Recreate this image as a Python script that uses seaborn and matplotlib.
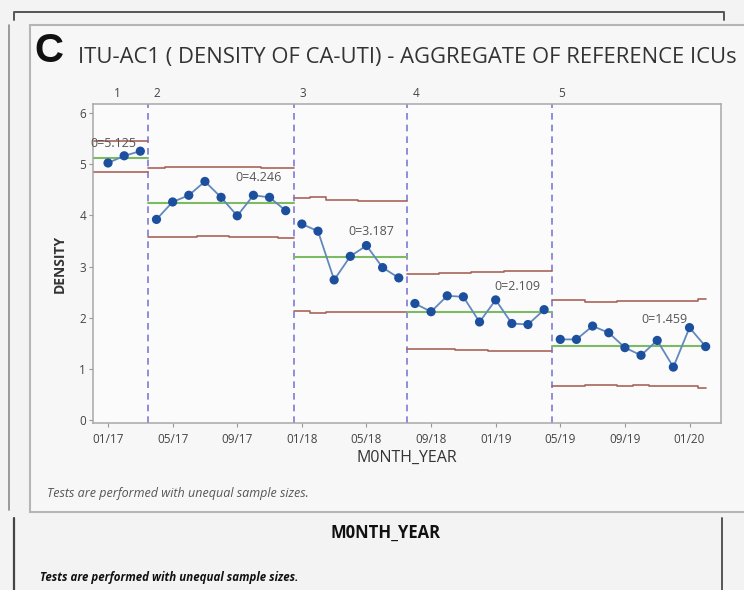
import matplotlib
matplotlib.use("Agg")
import matplotlib.pyplot as plt
from matplotlib.lines import Line2D
from matplotlib.patches import Rectangle
import numpy as np
import pandas as pd
import seaborn as sns

# ---- data ----
months = ["01/17", "02/17", "03/17", "04/17", "05/17", "06/17", "07/17", "08/17", "09/17",
          "10/17", "11/17", "12/17", "01/18", "02/18", "03/18", "04/18", "05/18", "06/18",
          "07/18", "08/18", "09/18", "10/18", "11/18", "12/18", "01/19", "02/19", "03/19",
          "04/19", "05/19", "06/19", "07/19", "08/19", "09/19", "10/19", "11/19", "12/19",
          "01/20", "02/20"]
phase = [1] * 3 + [2] * 9 + [3] * 7 + [4] * 9 + [5] * 10
density = [5.02, 5.16, 5.25,
           3.92, 4.26, 4.39, 4.66, 4.35, 3.99, 4.39, 4.35, 4.09,
           3.83, 3.69, 2.74, 3.20, 3.41, 2.98, 2.78,
           2.28, 2.12, 2.43, 2.41, 1.92, 2.35, 1.89, 1.87, 2.16,
           1.58, 1.58, 1.84, 1.71, 1.42, 1.27, 1.56, 1.04, 1.81, 1.44]
center = {1: 5.125, 2: 4.246, 3: 3.187, 4: 2.109, 5: 1.459}
ucl = [5.44, 5.44, 5.44,
       4.93, 4.94, 4.94, 4.95, 4.95, 4.94, 4.94, 4.93, 4.93,
       4.33, 4.36, 4.29, 4.29, 4.28, 4.28, 4.28,
       2.86, 2.86, 2.87, 2.88, 2.89, 2.90, 2.92, 2.92, 2.92,
       2.35, 2.35, 2.30, 2.30, 2.33, 2.33, 2.33, 2.33, 2.33, 2.36]
lcl = [4.84, 4.84, 4.84,
       3.57, 3.58, 3.58, 3.59, 3.59, 3.58, 3.57, 3.57, 3.56,
       2.14, 2.09, 2.12, 2.12, 2.12, 2.11, 2.11,
       1.40, 1.40, 1.39, 1.38, 1.37, 1.36, 1.35, 1.35, 1.36,
       0.67, 0.67, 0.70, 0.70, 0.68, 0.70, 0.67, 0.67, 0.67, 0.64]
tick_labels = ["01/17", "05/17", "09/17", "01/18", "05/18", "09/18", "01/19", "05/19", "09/19", "01/20"]

df = pd.DataFrame({"idx": np.arange(len(months)), "month": months, "phase": phase,
                   "density": density, "ucl": ucl, "lcl": lcl})
df["cl"] = df["phase"].map(center)

W, H = 744, 590
sns.set_theme(style="white")
plt.rcParams["font.family"] = ["Open Sans", "DejaVu Sans"]

fig = plt.figure(figsize=(W / 100, H / 100), dpi=100, facecolor="#f3f3f3")


def fx(x):
    return x / W


def fy(y):
    return 1 - y / H


def frame_line(xs, ys, color, lw):
    fig.add_artist(Line2D([fx(v) for v in xs], [fy(v) for v in ys], transform=fig.transFigure,
                          color=color, lw=lw, zorder=-5))


# outer screenshot frames
fig.add_artist(Rectangle((fx(30), fy(512)), fx(720), (512 - 25) / H, transform=fig.transFigure,
                         facecolor="#f7f7f7", edgecolor="#b5b5b5", lw=1.5, zorder=-10))
frame_line([14, 14, 724, 724], [20, 12, 12, 20], "#555555", 1.4)
frame_line([9, 9], [25, 510], "#8a8a8a", 1.2)
frame_line([14, 14], [518, 590], "#444444", 1.6)
frame_line([722, 722], [518, 590], "#555555", 1.4)

# panel headings
fig.text(fx(34), fy(51), "C", fontsize=29, fontweight="bold", color="#111111",
         family=["Liberation Sans", "DejaVu Sans"], va="center", ha="left")
fig.text(fx(78), fy(57), "ITU-AC1 ( DENSITY OF CA-UTI) - AGGREGATE OF REFERENCE ICUs",
         fontsize=15.8, color="#333333", va="center", ha="left")
fig.text(fx(47), fy(493), "Tests are performed with unequal sample sizes.", fontsize=9,
         style="italic", color="#555555", va="center", ha="left")
fig.text(fx(385), fy(533), "M0NTH_YEAR", fontsize=12, fontweight="bold", color="#111111",
         va="center", ha="center")
fig.text(fx(40), fy(577), "Tests are performed with unequal sample sizes.", fontsize=8.3,
         style="italic", fontweight="bold", color="#111111", va="center", ha="left")

# main control chart
ax = fig.add_axes([fx(93), fy(423), (721 - 93) / W, (423 - 104) / H])
ax.set_zorder(2)
ax.set_facecolor("#fbfbfb")

last_phase = max(phase)
for p, g in df.groupby("phase"):
    start, end = g["idx"].min(), g["idx"].max()
    left = start - 0.5 if p > 1 else -0.93
    right = end + 0.5 if p != last_phase else end + 0.05
    xs = [left] + list(g["idx"]) + [right]
    for col in ["ucl", "lcl"]:
        vals = list(g[col])
        sns.lineplot(x=xs, y=[vals[0]] + vals + [vals[-1]], ax=ax, color="#a8645a", lw=1.2,
                     drawstyle="steps-mid", estimator=None, sort=False)
    sns.lineplot(x=[left, right], y=[center[p], center[p]], ax=ax, color="#7dbb63", lw=1.5,
                 estimator=None)
    sns.lineplot(data=g, x="idx", y="density", ax=ax, color="#6289bd", lw=1.3, estimator=None)
    sns.scatterplot(data=g, x="idx", y="density", ax=ax, color="#1d4f9f", s=44,
                    edgecolor="none", zorder=5)

    dx = 1.1 if p == last_phase else 0.25
    dy = 0.27 if p == 1 else 0.5
    ax.text(end - dx, center[p] + dy, f"0={center[p]:.3f}", ha="right", va="center",
            fontsize=9, color="#555555", zorder=6)
    ax.text(start - 0.5 + 0.55 if p > 1 else 0.55, 1.012, str(p), transform=ax.get_xaxis_transform(),
            ha="center", va="bottom", fontsize=8.5, color="#444444")
    if p > 1:
        ax.axvline(start - 0.5, color="#7d7bd4", lw=1.2, ls=(0, (4, 3)), zorder=1)

ax.set_xlim(-0.93, 37.95)
ax.set_ylim(-0.05, 6.17)
ax.set_xticks(np.arange(0, 37, 4))
ax.set_xticklabels(tick_labels)
ax.set_yticks(range(0, 7))
ax.tick_params(axis="both", which="both", length=3, width=0.8, color="#999999",
               labelsize=8.5, labelcolor="#444444", pad=2, left=True, bottom=True)
ax.tick_params(axis="x", pad=4)
for s in ax.spines.values():
    s.set_visible(True)
    s.set_color("#a8a8a8")
    s.set_linewidth(1.1)
    s.set_linestyle((0, (1, 1)))
ax.set_xlabel("M0NTH_YEAR", fontsize=11.5, color="#333333", labelpad=3)
ax.set_ylabel("DENSITY", fontsize=10, fontweight="bold", color="#333333", labelpad=9)

fig.savefig("out.png", dpi=100, facecolor=fig.get_facecolor())
